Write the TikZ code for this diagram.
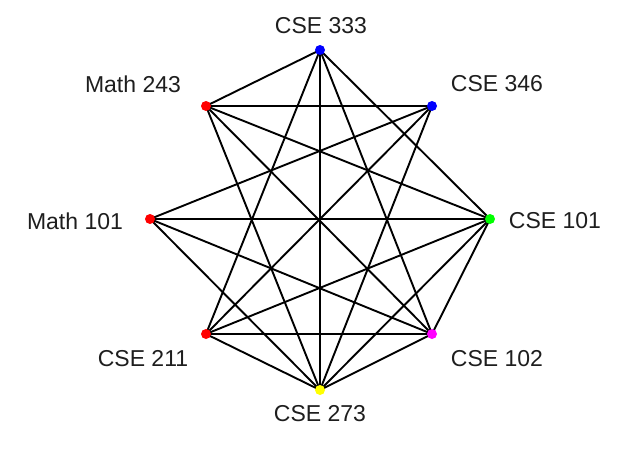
\documentclass[tikz,border=0pt]{standalone}
\usepackage{fontspec}
\setmainfont{Liberation Sans}
\definecolor{cblue}{RGB}{0,0,255}
\definecolor{cgreen}{RGB}{0,255,0}
\definecolor{cmag}{RGB}{255,0,255}
\definecolor{cyel}{RGB}{255,255,0}
\definecolor{cred}{RGB}{255,0,0}
\definecolor{ctext}{RGB}{30,30,30}
\begin{document}
\begin{tikzpicture}[x=1pt,y=-1pt,
  vtx/.style={circle,inner sep=0pt,minimum size=10pt},
  lbl/.style={font=\fontsize{23}{25}\selectfont,text=ctext,inner sep=0pt,anchor=center},
  edge/.style={line width=1.9pt,black}]
\useasboundingbox (0,0) rectangle (632,452);
\coordinate (A) at (320,50);
\coordinate (B) at (432,106);
\coordinate (C) at (490,219);
\coordinate (D) at (432,334);
\coordinate (E) at (320,390);
\coordinate (F) at (206,334);
\coordinate (G) at (150,219);
\coordinate (H) at (206,106);
\foreach \u/\v in {A/H,A/E,A/F,A/D,A/C,H/B,H/C,H/E,H/D,B/G,B/F,B/E,C/G,C/F,C/E,C/D,G/D,G/E,F/D,F/E,D/E}
  \draw[edge] (\u) -- (\v);
\node[vtx,fill=cblue] (nA) at (A) {};
\node[vtx,fill=cblue] (nB) at (B) {};
\node[vtx,fill=cgreen] (nC) at (C) {};
\node[vtx,fill=cmag] (nD) at (D) {};
\node[vtx,fill=cyel] (nE) at (E) {};
\node[vtx,fill=cred] (nF) at (F) {};
\node[vtx,fill=cred] (nG) at (G) {};
\node[vtx,fill=cred] (nH) at (H) {};
\node[lbl] (tA) at (321,26) {CSE 333};
\node[lbl] (tB) at (497,84) {CSE 346};
\node[lbl] (tC) at (555,221) {CSE 101};
\node[lbl] (tD) at (497,359) {CSE 102};
\node[lbl] (tE) at (320,414) {CSE 273};
\node[lbl] (tF) at (143,359) {CSE 211};
\node[lbl] (tG) at (75,221) {Math 101};
\node[lbl] (tH) at (133,84) {Math 243};
\end{tikzpicture}
\end{document}
